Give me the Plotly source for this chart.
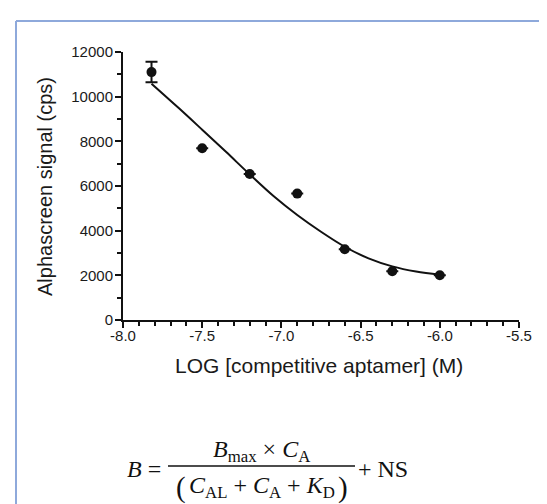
import plotly.graph_objects as go

# Measured data points
log_conc = [-7.82, -7.50, -7.20, -6.90, -6.60, -6.30, -6.00]
signal = [11100, 7690, 6540, 5660, 3170, 2180, 2000]
signal_err = [460, 0, 0, 0, 0, 0, 0]

# Fitted curve
fit_x = [-7.82, -7.65, -7.50, -7.35, -7.20, -7.05, -6.90, -6.75, -6.60, -6.45, -6.30, -6.15, -6.00]
fit_y = [10580, 9500, 8520, 7530, 6520, 5550, 4700, 3950, 3280, 2760, 2400, 2170, 2030]

x_ticks = [-8.0, -7.5, -7.0, -6.5, -6.0, -5.5]
x_tick_text = ["-8.0", "-7.5", "-7.0", "-6.5", "-6.0", "-5.5"]
y_ticks = [0, 2000, 4000, 6000, 8000, 10000, 12000]
y_tick_text = ["0", "2000", "4000", "6000", "8000", "10000", "12000"]

W, H = 547, 504
L, R, T, B = 115, 511, 44, 312


def px(x):
    return (x - L) / (R - L)


def py(y):
    return (B - y) / (B - T)


fig = go.Figure()
fig.add_trace(go.Scatter(x=fit_x, y=fit_y, mode="lines",
                         line=dict(color="#111", width=2, shape="spline", smoothing=1.0),
                         hoverinfo="skip", cliponaxis=False))
fig.add_trace(go.Scatter(x=log_conc, y=signal, mode="markers",
                         marker=dict(color="#111", size=10),
                         error_y=dict(type="data", array=signal_err, visible=True, color="#111", thickness=2, width=6),
                         cliponaxis=False))

tick_font = dict(family="Liberation Sans", size=15, color="#1a1a1a")
axis_common = dict(showline=True, linecolor="#111", linewidth=2, ticks="outside", tickcolor="#111",
                   tickwidth=2, ticklen=6, showgrid=False, zeroline=False, tickfont=tick_font)

fig.update_xaxes(range=[-8.0, -5.5], tickvals=x_ticks, ticktext=x_tick_text, ticklabelstandoff=-5,
                 minor=dict(dtick=0.1, tick0=-8.0, ticks="outside", ticklen=4, tickwidth=2, tickcolor="#111"),
                 **axis_common)
fig.update_yaxes(range=[0, 12000], tickvals=y_ticks, ticktext=y_tick_text, ticklabelstandoff=-1,
                 minor=dict(dtick=1000, tick0=0, ticks="outside", ticklen=4, tickwidth=2, tickcolor="#111"),
                 **axis_common)

title_font = dict(family="Liberation Sans", size=20, color="#1a1a1a")
xtitle_font = dict(family="Liberation Sans", size=21, color="#1a1a1a")
eq_font = dict(family="Liberation Serif", size=24, color="#111")
paren_font = dict(family="Liberation Serif", size=29, color="#111")

fig.add_annotation(x=px(37), y=py(179), xref="paper", yref="paper", text="Alphascreen signal (cps)",
                   textangle=-90, showarrow=False, font=title_font, xanchor="center", yanchor="middle")
fig.add_annotation(x=px(311), y=py(357), xref="paper", yref="paper", text="LOG [competitive aptamer] (M)",
                   showarrow=False, font=xtitle_font, xanchor="center", yanchor="middle")
fig.add_annotation(x=px(155), y=py(461), xref="paper", yref="paper", text="<i>B</i> =",
                   showarrow=False, font=eq_font, xanchor="right", yanchor="middle")
fig.add_annotation(x=px(253.5), y=py(443), xref="paper", yref="paper",
                   text="<i>B</i><sub>max</sub> × <i>C</i><sub>A</sub>",
                   showarrow=False, font=eq_font, xanchor="center", yanchor="middle")
fig.add_annotation(x=px(253.5), y=py(479), xref="paper", yref="paper",
                   text="<i>C</i><sub>AL</sub> + <i>C</i><sub>A</sub> + <i>K</i><sub>D</sub>",
                   showarrow=False, font=eq_font, xanchor="center", yanchor="middle")
fig.add_annotation(x=px(166), y=py(479), xref="paper", yref="paper", text="(",
                   showarrow=False, font=paren_font, xanchor="left", yanchor="middle")
fig.add_annotation(x=px(342), y=py(479), xref="paper", yref="paper", text=")",
                   showarrow=False, font=paren_font, xanchor="right", yanchor="middle")
fig.add_annotation(x=px(348), y=py(461), xref="paper", yref="paper", text="+ NS",
                   showarrow=False, font=eq_font, xanchor="left", yanchor="middle")

shapes = [
    dict(type="line", xref="paper", yref="paper", x0=px(160), x1=px(347), y0=py(458), y1=py(458),
         line=dict(color="#111", width=1.3)),
    dict(type="line", xref="paper", yref="paper", x0=px(8), x1=px(547), y0=py(13), y1=py(13),
         line=dict(color="#8EA9DB", width=2)),
    dict(type="line", xref="paper", yref="paper", x0=px(8), x1=px(8), y0=py(13), y1=py(504),
         line=dict(color="#8EA9DB", width=2)),
]

fig.update_layout(width=W, height=H, margin=dict(l=L, r=W - R, t=T, b=H - B),
                  paper_bgcolor="white", plot_bgcolor="white", showlegend=False, shapes=shapes)

fig.write_html("out.html")
